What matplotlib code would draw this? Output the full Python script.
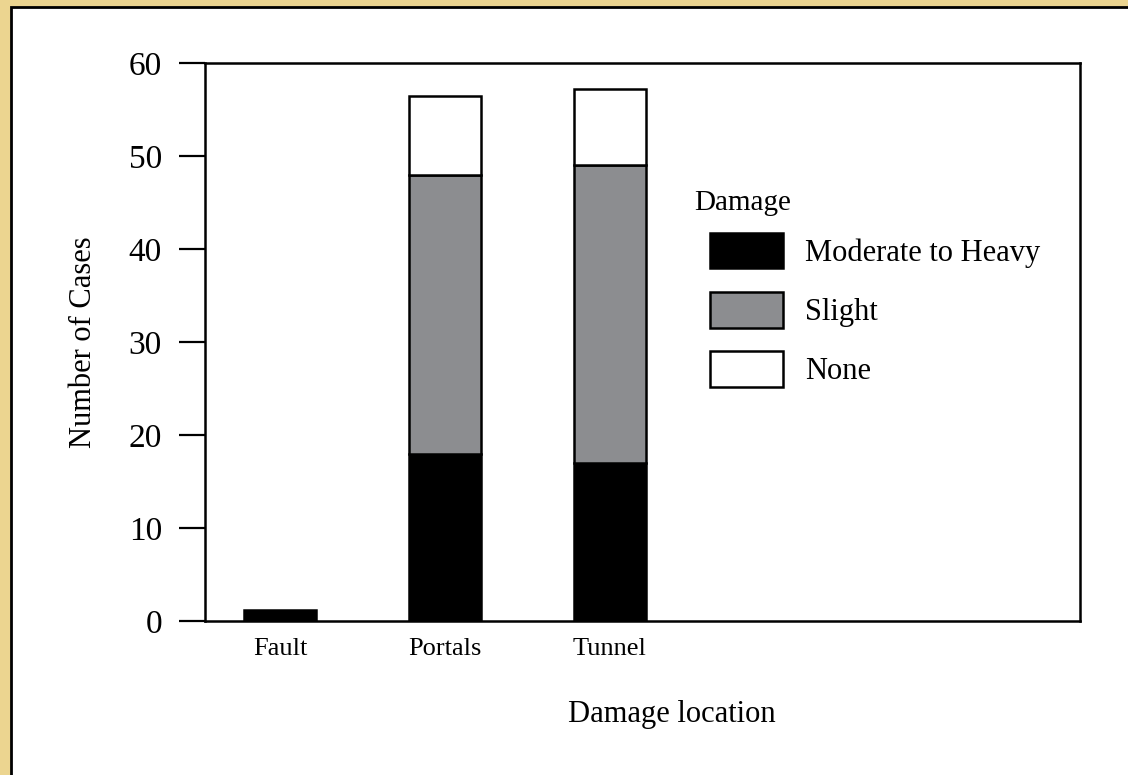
import numpy as np
import matplotlib
matplotlib.use("Agg")
import matplotlib.pyplot as plt
from matplotlib.patches import Rectangle

plt.rcParams['font.family'] = ['Liberation Serif', 'DejaVu Serif']

locations = ["Fault", "Portals", "Tunnel"]
moderate_heavy = [1.2, 18, 17]
slight = [0, 30, 32]
none_ = [0, 8.4, 8.2]
damage_labels = ["Moderate to Heavy", "Slight", "None"]
damage_colors = ["black", "#8c8d90", "white"]

fig = plt.figure(figsize=(11.28, 7.75), dpi=100, facecolor="#ecd590")
# white panel with black rule on the left and top edges
fig.patches.append(Rectangle((11 / 1128, -0.1), 1.2, 1 - 7 / 775 + 0.1,
                             transform=fig.transFigure, facecolor="white",
                             edgecolor="black", linewidth=2, zorder=-10))

ax = fig.add_axes([205 / 1128, 1 - 621 / 775, 875 / 1128, 558 / 775])
ax.set_facecolor("white")

x = np.arange(len(locations))
bottom = np.zeros(len(locations))
for vals, lab, col in zip([moderate_heavy, slight, none_], damage_labels, damage_colors):
    vals = np.asarray(vals, dtype=float)
    mask = vals > 0
    ax.bar(x[mask], vals[mask], width=0.44, bottom=bottom[mask],
           color=col, edgecolor="black", linewidth=1.8, label=lab)
    bottom += vals

ax.set_xlim(-0.455, 4.85)
ax.set_ylim(0, 60)
ax.set_yticks(np.arange(0, 61, 10))
ax.set_xticks(x)
ax.set_xticklabels(locations, fontsize=19)
ax.tick_params(axis="y", labelsize=24, length=19, width=1.6, pad=12, direction="out")
ax.tick_params(axis="x", length=0, pad=12)
for sp in ax.spines.values():
    sp.set_linewidth(1.8)

ax.set_xlabel("Damage location", fontsize=22, labelpad=29)
ax.xaxis.label.set_x(0.533)
ax.set_ylabel("Number of Cases", fontsize=22, labelpad=22)

ax.text(0.559, 0.749, "Damage", transform=ax.transAxes, fontsize=21,
        ha="left", va="center")
ax.legend(loc="upper left", bbox_to_anchor=(0.577, 0.695), frameon=False,
          borderpad=0, borderaxespad=0, fontsize=22, handlelength=2.39,
          handleheight=1.4, labelspacing=0.78, handletextpad=0.72)

fig.savefig("out.png", dpi=100, facecolor=fig.get_facecolor())
